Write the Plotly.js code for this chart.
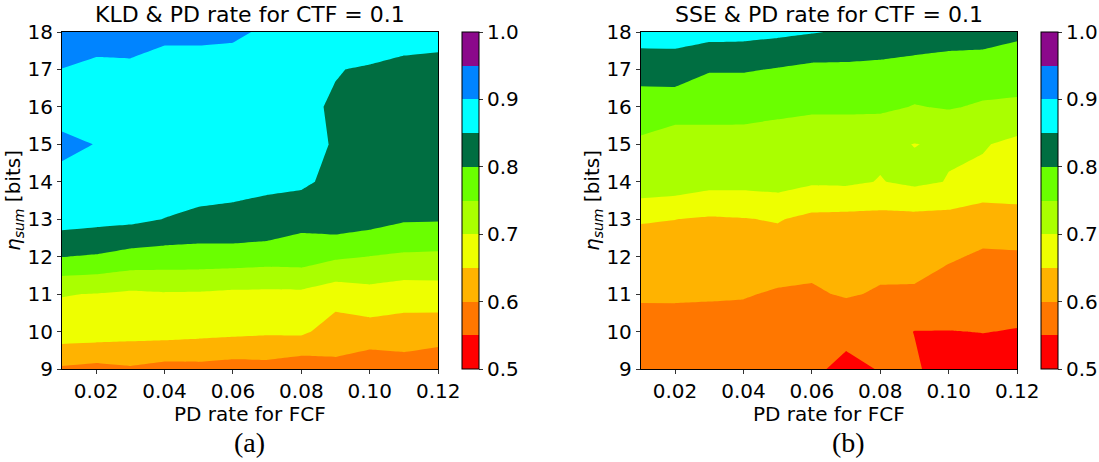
<!DOCTYPE html>
<html>
<head>
<meta charset="utf-8">
<script src="https://cdn.plot.ly/plotly-3.0.1.min.js"></script>
<style>
  html, body { margin: 0; padding: 0; background: #ffffff; }
  #chart { width: 1099px; height: 462px; }
</style>
</head>
<body>
<div id="chart"></div>
<script>
// PD rate for FCF (x) and eta_sum in bits (y)
const pdRate = [0.01, 0.02, 0.03, 0.04, 0.05, 0.06, 0.07, 0.08, 0.09, 0.10, 0.11, 0.12];
const etaSum = [9, 10, 11, 12, 13, 14, 15, 16, 17, 18];

// (a) KLD & PD rate, rows = etaSum, columns = pdRate
const kldValues = [
  [0.593, 0.5855, 0.594, 0.5825, 0.5847, 0.5783, 0.5818, 0.5675, 0.588, 0.5675, 0.5795, 0.568],
  [0.678, 0.6764, 0.6697, 0.6702, 0.6653, 0.6617, 0.6576, 0.66, 0.6254, 0.63, 0.625, 0.6223],
  [0.702, 0.6985, 0.6918, 0.6958, 0.695, 0.69, 0.689, 0.6898, 0.672, 0.683, 0.6745, 0.6766],
  [0.801, 0.7957, 0.7827, 0.779, 0.7783, 0.777, 0.7726, 0.775, 0.757, 0.749, 0.7427, 0.7407],
  [0.8704, 0.865, 0.8613, 0.849, 0.8403, 0.8427, 0.8378, 0.8145, 0.83, 0.82, 0.805, 0.804],
  [0.888, 0.885, 0.88, 0.88, 0.8697, 0.8589, 0.8566, 0.86, 0.835, 0.825, 0.815, 0.812],
  [0.910, 0.899, 0.89, 0.89, 0.89, 0.885, 0.875, 0.87, 0.845, 0.83, 0.825, 0.82],
  [0.881, 0.89, 0.89, 0.89, 0.89, 0.888, 0.88, 0.858, 0.8457, 0.838, 0.835, 0.83],
  [0.8995, 0.895, 0.895, 0.893, 0.893, 0.89, 0.885, 0.875, 0.852, 0.845, 0.842, 0.84],
  [0.920, 0.91, 0.912, 0.904, 0.904, 0.904, 0.8965, 0.89, 0.88, 0.8835, 0.8636, 0.8617]
];

// (b) SSE & PD rate, rows = etaSum, columns = pdRate
const sseValues = [
  [0.570, 0.565, 0.565, 0.565, 0.565, 0.5575, 0.540, 0.552, 0.5556, 0.530, 0.530, 0.530],
  [0.584, 0.578, 0.580, 0.5787, 0.580, 0.580, 0.5608, 0.570, 0.549, 0.549, 0.551, 0.548],
  [0.605, 0.607, 0.605, 0.6035, 0.595, 0.5936, 0.6048, 0.595, 0.5926, 0.5823, 0.575, 0.5686],
  [0.610, 0.625, 0.625, 0.625, 0.6244, 0.615, 0.620, 0.615, 0.620, 0.6042, 0.595, 0.5934],
  [0.656, 0.6505, 0.645, 0.648, 0.6532, 0.6377, 0.6355, 0.6349, 0.635, 0.634, 0.6177, 0.632],
  [0.735, 0.7294, 0.716, 0.715, 0.7191, 0.7062, 0.708, 0.698, 0.7097, 0.698, 0.6895, 0.677],
  [0.746, 0.740, 0.745, 0.745, 0.740, 0.735, 0.735, 0.709, 0.699, 0.7054, 0.7035, 0.6886],
  [0.763, 0.7592, 0.7546, 0.7544, 0.755, 0.7538, 0.7538, 0.759, 0.748, 0.7534, 0.745, 0.7406],
  [0.8305, 0.8362, 0.8045, 0.8045, 0.797, 0.7885, 0.789, 0.790, 0.7766, 0.775, 0.7744, 0.776],
  [0.865, 0.8613, 0.8668, 0.8652, 0.860, 0.8526, 0.845, 0.8285, 0.838, 0.826, 0.8227, 0.808]
];

const xTickVals = [0.02, 0.04, 0.06, 0.08, 0.10, 0.12];
const yTickVals = [9, 10, 11, 12, 13, 14, 15, 16, 17, 18];
const cbarTickVals = [0.5, 0.6, 0.7, 0.8, 0.9, 1.0];
const bandColors = ['#ff0000', '#ff7700', '#ffb300', '#eeff00', '#aaff00',
                    '#6aff00', '#006e41', '#00ffff', '#0084ff', '#8b088b'];

const titles = ['KLD & PD rate for CTF = 0.1', 'SSE & PD rate for CTF = 0.1'];
const captions = ['(a)', '(b)'];
const xTitle = 'PD rate for FCF';
const yTitle = '<i>η</i><sub><i>sum</i></sub> [bits]';

// stepped colorscale: one constant colour per 0.05 band
const stepScale = [];
bandColors.forEach((c, i) => {
  stepScale.push([i / bandColors.length, c]);
  stepScale.push([(i + 1) / bandColors.length, c]);
});

const W = 1099, H = 462;
const FONT = 'DejaVu Sans, sans-serif';
const plotTop = 32, plotBottom = 369;
const yDom = [(H - plotBottom) / H, (H - plotTop) / H];
const xDom1 = [62 / W, 439 / W];
const xDom2 = [642 / W, 1019 / W];
const cbX = [463 / W, 1043 / W];

function contourTrace(z, xa, ya, cbx) {
  return {
    type: 'contour',
    x: pdRate, y: etaSum, z: z,
    xaxis: xa, yaxis: ya,
    zmin: 0.5, zmax: 1.0,
    colorscale: stepScale,
    contours: {start: 0.5, end: 1.0, size: 0.05, coloring: 'fill', showlines: false},
    line: {width: 0, smoothing: 0},
    hoverinfo: 'x+y+z',
    colorbar: {
      x: cbx, xanchor: 'left', xpad: 0,
      y: yDom[0], yanchor: 'bottom', ypad: 0,
      len: plotBottom - plotTop, lenmode: 'pixels',
      thickness: 17, thicknessmode: 'pixels',
      outlinewidth: 1, outlinecolor: '#000000',
      tickmode: 'array', tickvals: cbarTickVals, tickformat: '.1f',
      ticks: 'outside', ticklen: 4, tickcolor: '#333333',
      tickfont: {family: FONT, size: 20, color: '#000000'}
    }
  };
}

function xAxis(dom, anchor) {
  return {
    domain: dom, anchor: anchor, range: [0.01, 0.12],
    tickmode: 'array', tickvals: xTickVals, tickformat: '.2f',
    ticks: 'outside', ticklen: 4, tickcolor: '#333333',
    showline: true, mirror: true, linecolor: '#000000', linewidth: 1,
    showgrid: false, zeroline: false,
    tickfont: {family: FONT, size: 20, color: '#000000'}
  };
}
function yAxis(anchor) {
  return {
    domain: yDom, anchor: anchor, range: [9, 18],
    tickmode: 'array', tickvals: yTickVals,
    ticks: 'outside', ticklen: 4, tickcolor: '#333333',
    showline: true, mirror: true, linecolor: '#000000', linewidth: 1,
    showgrid: false, zeroline: false,
    tickfont: {family: FONT, size: 20, color: '#000000'},
    title: {text: yTitle, font: {family: FONT, size: 20, color: '#000000'}, standoff: 0}
  };
}

const data = [
  contourTrace(kldValues, 'x', 'y', cbX[0]),
  contourTrace(sseValues, 'x2', 'y2', cbX[1])
];

function ann(text, xPx, yPx, size, family) {
  return {text: text, x: xPx / W, y: (H - yPx) / H, xref: 'paper', yref: 'paper',
          xanchor: 'center', yanchor: 'middle', showarrow: false,
          font: {family: family, size: size, color: '#000000'}};
}

const layout = {
  width: W, height: H,
  margin: {l: 0, r: 0, t: 0, b: 0},
  paper_bgcolor: '#ffffff', plot_bgcolor: '#ffffff',
  showlegend: false,
  xaxis: xAxis(xDom1, 'y'),
  yaxis: yAxis('x'),
  xaxis2: xAxis(xDom2, 'y2'),
  yaxis2: yAxis('x2'),
  annotations: [
    ann(titles[0], 250.5, 15, 22, FONT),
    ann(titles[1], 830.5, 15, 22, FONT),
    ann(xTitle, 250.5, 414, 20, FONT),
    ann(xTitle, 830.5, 414, 20, FONT),
    ann(captions[0], 250, 442, 28, 'Liberation Serif, serif'),
    ann(captions[1], 850, 442, 28, 'Liberation Serif, serif')
  ]
};

Plotly.newPlot('chart', data, layout, {displayModeBar: false, staticPlot: true});
</script>
</body>
</html>
